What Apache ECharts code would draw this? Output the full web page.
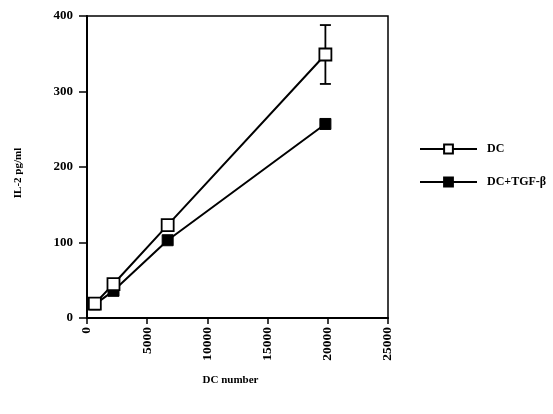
<!DOCTYPE html>
<html>
<head>
<meta charset="utf-8">
<script src="https://cdn.jsdelivr.net/npm/echarts@6/dist/echarts.min.js"></script>
<style>
  html, body { margin: 0; padding: 0; background: #fff; }
  #chart { width: 553px; height: 414px; }
</style>
</head>
<body>
<div id="chart"></div>
<script>
// data
const dcNumber = [650, 2200, 6700, 19800];
const dcValues = [19, 45, 123, 349];
const dcErr = [0, 0, 0, 39];
const tgfValues = [18, 36, 103, 257];
const xTicks = [0, 5000, 10000, 15000, 20000, 25000];
const yTicks = [0, 100, 200, 300, 400];

const font = 'Liberation Serif';
const chart = echarts.init(document.getElementById('chart'));

const dcData = dcNumber.map((x, i) => [x, dcValues[i]]);
const tgfData = dcNumber.map((x, i) => [x, tgfValues[i]]);
const errData = dcNumber.map((x, i) => [x, dcValues[i] - dcErr[i], dcValues[i] + dcErr[i]])
  .filter((d, i) => dcErr[i] > 0);

const option = {
  animation: false,
  backgroundColor: '#fff',
  grid: {
    left: 87, right: 165, top: 16, bottom: 96,
    show: true, borderColor: '#000', borderWidth: 1.5
  },
  legend: {
    orient: 'vertical',
    left: 414, top: 138,
    itemWidth: 57, itemHeight: 11, itemGap: 21,
    data: ['DC', 'DC+TGF-β'],
    textStyle: { fontFamily: font, fontWeight: 'bold', fontSize: 12, color: '#000', padding: [0, 0, 0, 5] }
  },
  xAxis: {
    type: 'value',
    min: 0, max: 25000, interval: 5000,
    name: 'DC number',
    nameLocation: 'middle',
    nameGap: 57,
    nameTextStyle: { fontFamily: font, fontWeight: 'bold', fontSize: 11, color: '#000', padding: [0, 14, 0, 0] },
    axisLine: { lineStyle: { color: '#000', width: 2 } },
    axisTick: { show: true, length: 6, lineStyle: { color: '#000', width: 1.5 } },
    axisLabel: {
      rotate: 90, margin: 9,
      fontFamily: font, fontWeight: 'bold', fontSize: 13.5, color: '#000',
      formatter: v => xTicks.includes(v) ? String(v) : ''
    },
    splitLine: { show: false }
  },
  yAxis: {
    type: 'value',
    min: 0, max: 400, interval: 100,
    name: 'IL-2 pg/ml',
    nameLocation: 'middle',
    nameGap: 63,
    nameRotate: 90,
    nameTextStyle: { fontFamily: font, fontWeight: 'bold', fontSize: 11, color: '#000', padding: [0, 12, 0, 0] },
    axisLine: { show: true, lineStyle: { color: '#000', width: 2 } },
    axisTick: { show: true, length: 8, lineStyle: { color: '#000', width: 1.5 } },
    axisLabel: {
      margin: 14,
      fontFamily: font, fontWeight: 'bold', fontSize: 13, color: '#000',
      formatter: v => yTicks.includes(v) ? String(v) : ''
    },
    splitLine: { show: false }
  },
  series: [
    {
      name: 'DC+TGF-β',
      type: 'line',
      data: tgfData,
      symbol: 'rect',
      symbolSize: 11,
      z: 2,
      lineStyle: { color: '#000', width: 2 },
      itemStyle: { color: '#000', borderColor: '#000', borderWidth: 1 }
    },
    {
      name: 'DC',
      type: 'line',
      data: dcData,
      symbol: 'rect',
      symbolSize: 12,
      z: 3,
      lineStyle: { color: '#000', width: 2 },
      itemStyle: { color: '#fff', borderColor: '#000', borderWidth: 1.8 }
    },
    {
      name: 'err',
      type: 'custom',
      z: 1,
      data: errData,
      renderItem: function (params, api) {
        const x = api.coord([api.value(0), 0])[0];
        const lo = api.coord([api.value(0), api.value(1)])[1];
        const hi = api.coord([api.value(0), api.value(2)])[1];
        const w = 5.5;
        const st = { stroke: '#000', lineWidth: 1.8 };
        return {
          type: 'group',
          children: [
            { type: 'line', shape: { x1: x, y1: lo, x2: x, y2: hi }, style: st },
            { type: 'line', shape: { x1: x - w, y1: lo, x2: x + w, y2: lo }, style: st },
            { type: 'line', shape: { x1: x - w, y1: hi, x2: x + w, y2: hi }, style: st }
          ]
        };
      }
    }
  ]
};

chart.setOption(option);
</script>
</body>
</html>
